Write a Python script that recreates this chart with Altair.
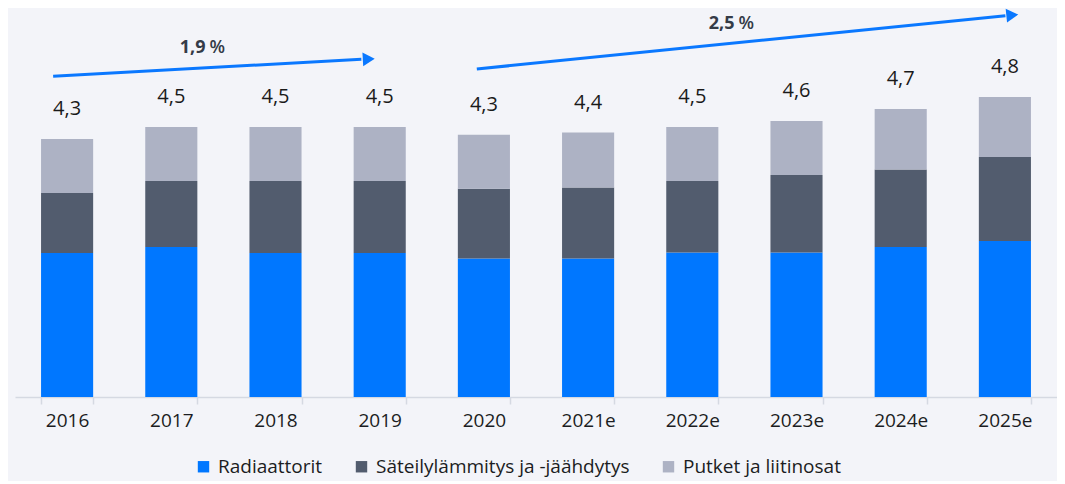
import altair as alt
import pandas as pd

# ---------------- data ----------------
years = ["2016", "2017", "2018", "2019", "2020", "2021e", "2022e", "2023e", "2024e", "2025e"]
radiaattorit = [2.40, 2.50, 2.40, 2.40, 2.31, 2.31, 2.41, 2.41, 2.50, 2.60]
sateily = [1.00, 1.10, 1.20, 1.20, 1.16, 1.18, 1.19, 1.29, 1.29, 1.40]
putket = [0.90, 0.90, 0.90, 0.90, 0.90, 0.92, 0.90, 0.90, 1.01, 1.00]
total_labels = ["4,3", "4,5", "4,5", "4,5", "4,3", "4,4", "4,5", "4,6", "4,7", "4,8"]

series_names = ["Radiaattorit", "Säteilylämmitys ja -jäähdytys", "Putket ja liitinosat"]
series_colors = ["#0077FF", "#525C6E", "#ADB2C4"]

# growth arrows (x in category-index units, y in value units)
arrow_id = ["a1", "a1", "a2", "a2"]
arrow_x = [0.366, 3.324, 4.432, 9.505]
arrow_y = [5.345, 5.630, 5.467, 6.353]
head_x = [3.395, 9.571]
head_y = [5.633, 6.365]
head_angle = [356.8, 354.3]
pct_x = [1.838, 6.914]
pct_y = [5.822, 6.222]
pct_num = ["1,9", "2,5"]
pct_sign = ["%", "%"]

# ---------------- frames ----------------
rows = []
for i, yr in enumerate(years):
    for k, vals in enumerate([radiaattorit, sateily, putket]):
        rows.append({"year": yr, "series": series_names[k], "value": vals[i], "ord": k})
bars_df = pd.DataFrame(rows)
tot_df = pd.DataFrame({
    "year": years,
    "total": [a + b + c for a, b, c in zip(radiaattorit, sateily, putket)],
    "label": total_labels,
})
arrow_df = pd.DataFrame({"id": arrow_id, "ax": arrow_x, "ay": arrow_y})
head_df = pd.DataFrame({"hx": head_x, "hy": head_y, "angle": head_angle})
pct_df = pd.DataFrame({"px": pct_x, "py": pct_y, "num": pct_num, "sign": pct_sign})

FONT = "Open Sans"
W, H = 1042, 386
yscale = alt.Scale(domain=[0, 6.433], nice=False, zero=True)
xband = alt.Scale(domain=years, paddingInner=0.5, paddingOuter=0.25)
xlin = alt.Scale(domain=[0, 10], nice=False, zero=False)

bars = alt.Chart(bars_df).mark_bar().encode(
    x=alt.X("year:N", scale=xband, title=None,
            axis=alt.Axis(labelAngle=0, tickBand="extent", labelFontSize=19,
                          labelFont=FONT, labelColor="#1b1d22", labelPadding=7,
                          domainColor="#D5D9E2", tickColor="#D5D9E2",
                          domainWidth=1.5, tickWidth=1.5, tickSize=7, grid=False)),
    y=alt.Y("value:Q", stack="zero", scale=yscale, axis=None),
    color=alt.Color("series:N",
                    scale=alt.Scale(domain=series_names, range=series_colors),
                    legend=alt.Legend(orient="none", legendX=179, legendY=446,
                                      direction="horizontal", title=None,
                                      symbolType="square", symbolSize=130,
                                      symbolStrokeWidth=0, labelFontSize=19,
                                      labelFont=FONT, labelColor="#1b1d22",
                                      labelLimit=0, columnPadding=29, labelOffset=5)),
    order=alt.Order("ord:Q", sort="ascending"),
)

totals = alt.Chart(tot_df).mark_text(
    font=FONT, fontSize=20, color="#1a1a1a", baseline="middle", dy=-29.5
).encode(
    x=alt.X("year:N", scale=xband, axis=None),
    y=alt.Y("total:Q", scale=yscale, axis=None),
    text="label:N",
)

arrows = alt.Chart(arrow_df).mark_line(color="#0A78FF", strokeWidth=3).encode(
    x=alt.X("ax:Q", scale=xlin, axis=None),
    y=alt.Y("ay:Q", scale=yscale, axis=None),
    detail="id:N",
)

heads = alt.Chart(head_df).mark_point(
    shape="triangle-right", filled=True, color="#0A78FF", size=190, opacity=1, strokeWidth=0
).encode(
    x=alt.X("hx:Q", scale=xlin, axis=None),
    y=alt.Y("hy:Q", scale=yscale, axis=None),
    angle=alt.Angle("angle:Q", scale=None),
)

pct_num_t = alt.Chart(pct_df).mark_text(
    font=FONT, fontSize=18, fontWeight="bold", color="#343B47", align="right",
    baseline="middle", dx=-1
).encode(
    x=alt.X("px:Q", scale=xlin, axis=None),
    y=alt.Y("py:Q", scale=yscale, axis=None),
    text="num:N",
)
pct_sign_t = alt.Chart(pct_df).mark_text(
    font=FONT, fontSize=18, fontWeight=600, color="#343B47", align="left",
    baseline="middle", dx=3
).encode(
    x=alt.X("px:Q", scale=xlin, axis=None),
    y=alt.Y("py:Q", scale=yscale, axis=None),
    text="sign:N",
)

chart = alt.layer(bars, totals, arrows, heads, pct_num_t, pct_sign_t).resolve_scale(
    x="independent"
).properties(
    width=W, height=H, background="#F3F4F9",
    padding={"left": 7, "top": 0, "right": 0, "bottom": 4},
).configure_view(stroke=None)

chart.save("out.html", embed_options={"renderer": "svg", "actions": False})
